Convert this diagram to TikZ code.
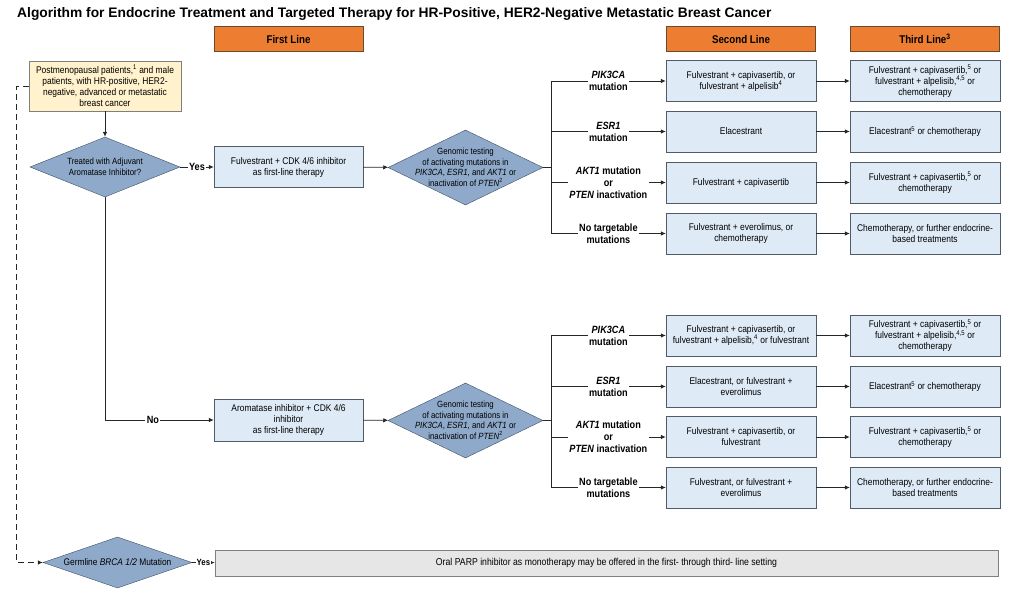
\documentclass[tikz,border=0pt]{standalone}
\usepackage{fontspec}
\setmainfont{Liberation Sans}[FakeStretch=0.87]
\newfontfamily\titlefont{Liberation Sans}
\usetikzlibrary{shapes.geometric,arrows.meta}
\definecolor{hdrorange}{HTML}{ED7D31}
\definecolor{hdrline}{HTML}{6B4A2B}
\definecolor{boxblue}{HTML}{DEEBF7}
\definecolor{boxline}{HTML}{4F5B66}
\definecolor{diafill}{HTML}{8EA9C9}
\definecolor{dialine}{HTML}{3E4F63}
\definecolor{startfill}{HTML}{FFF2CC}
\definecolor{startline}{HTML}{7F7F7F}
\definecolor{greyfill}{HTML}{E7E6E6}
\definecolor{greyline}{HTML}{808080}
\definecolor{lineclr}{HTML}{262626}
\newcommand\ssup[1]{\textsuperscript{#1}}
\newcommand\bodyfont{\fontsize{9.7}{11}\selectfont}
\newcommand\diafont{\fontsize{9}{10.5}\selectfont}
\newcommand\lblfont{\fontsize{10.5}{12}\selectfont\bfseries}
\begin{document}
\begin{tikzpicture}[x=1pt,y=-1pt,
  hdr/.style={draw=hdrline, fill=hdrorange, minimum width=149pt, minimum height=25pt, inner sep=0pt, font=\fontsize{11.2}{13}\selectfont\bfseries},
  bbox/.style={draw=boxline, fill=boxblue, minimum width=150pt, minimum height=41pt, align=center, inner sep=0pt, font=\bodyfont},
  dia/.style={diamond, draw=dialine, fill=diafill, inner sep=0pt},
  dtxt/.style={align=center, font=\diafont, inner sep=0pt},
  lbl/.style={fill=white, inner sep=1.5pt, align=center, font=\lblfont},
  conn/.style={draw=lineclr, line width=0.8pt},
  arr/.style={conn, -{Latex[length=5pt,width=4.5pt]}}
]
\useasboundingbox (0,0) rectangle (1010,596);

\node[anchor=west, font=\titlefont\fontsize{13.8}{16}\selectfont\bfseries, inner sep=0pt] (title) at (17,14)
  {Algorithm for Endocrine Treatment and Targeted Therapy for HR-Positive, HER2-Negative Metastatic Breast Cancer};

\node[hdr] (h1) at (288.5,39) {First Line};
\node[hdr] (h2) at (741,39) {Second Line};
\node[hdr] (h3) at (925,39) {Third Line\ssup{3}};

\node[draw=startline, fill=startfill, minimum width=152pt, minimum height=50pt, inner sep=0pt, align=center, font=\bodyfont] (s) at (105,86)
  {Postmenopausal patients,\ssup{1} and male\\patients, with HR-positive, HER2-\\negative, advanced or metastatic\\breast cancer};

\node[dia, minimum width=150pt, minimum height=60pt] (d1) at (105,167) {};
\node[dtxt] (d1t) at (d1.center) {Treated with Adjuvant\\Aromatase Inhibitor?};

\node[bbox, minimum width=149pt] (f1) at (288.5,167) {Fulvestrant + CDK 4/6 inhibitor\\as first-line therapy};
\node[bbox, minimum width=149pt, minimum height=42pt] (a1) at (288.5,420) {Aromatase inhibitor + CDK 4/6\\inhibitor\\as first-line therapy};

\node[dia, minimum width=155pt, minimum height=75pt] (g1) at (465.5,167.5) {};
\node[dtxt] (g1t) at (g1.center) {Genomic testing\\of activating mutations in\\\textit{PIK3CA}, \textit{ESR1}, and \textit{AKT1} or\\inactivation of \textit{PTEN}\ssup{2}};
\node[dia, minimum width=155pt, minimum height=75pt] (g2) at (465.5,420.5) {};
\node[dtxt] (g2t) at (g2.center) {Genomic testing\\of activating mutations in\\\textit{PIK3CA}, \textit{ESR1}, and \textit{AKT1} or\\inactivation of \textit{PTEN}\ssup{2}};

% upper second/third line
\node[bbox] (s11) at (741,81) {Fulvestrant + capivasertib, or\\fulvestrant + alpelisib\ssup{4}};
\node[bbox] (t11) at (925,81) {Fulvestrant + capivasertib,\ssup{5} or\\fulvestrant + alpelisib,\ssup{4,5} or\\chemotherapy};
\node[bbox] (s12) at (741,131.5) {Elacestrant};
\node[bbox] (t12) at (925,131.5) {Elacestrant\ssup{5} or chemotherapy};
\node[bbox] (s13) at (741,182.5) {Fulvestrant + capivasertib};
\node[bbox] (t13) at (925,182.5) {Fulvestrant + capivasertib,\ssup{5} or\\chemotherapy};
\node[bbox] (s14) at (741,233.5) {Fulvestrant + everolimus, or\\chemotherapy};
\node[bbox] (t14) at (925,233.5) {Chemotherapy, or further endocrine-\\based treatments};

% lower second/third line
\node[bbox] (s21) at (741,335.5) {Fulvestrant + capivasertib, or\\fulvestrant + alpelisib,\ssup{4} or fulvestrant};
\node[bbox] (t21) at (925,335.5) {Fulvestrant + capivasertib,\ssup{5} or\\fulvestrant + alpelisib,\ssup{4,5} or\\chemotherapy};
\node[bbox] (s22) at (741,386.5) {Elacestrant, or fulvestrant +\\everolimus};
\node[bbox] (t22) at (925,386.5) {Elacestrant\ssup{5} or chemotherapy};
\node[bbox] (s23) at (741,437) {Fulvestrant + capivasertib, or\\fulvestrant};
\node[bbox] (t23) at (925,437) {Fulvestrant + capivasertib,\ssup{5} or\\chemotherapy};
\node[bbox] (s24) at (741,487.5) {Fulvestrant, or fulvestrant +\\everolimus};
\node[bbox] (t24) at (925,487.5) {Chemotherapy, or further endocrine-\\based treatments};

% germline
\node[dia, minimum width=149pt, minimum height=51pt] (gm) at (117.5,562.5) {};
\node[dtxt, font=\fontsize{9.6}{11}\selectfont] (gmt) at (gm.center) {Germline \textit{BRCA 1/2} Mutation};
\node[draw=greyline, fill=greyfill, minimum width=783pt, minimum height=26pt, inner sep=0pt, font=\fontsize{10}{11}\selectfont] (pb) at (606.5,563)
  {Oral PARP inhibitor as monotherapy may be offered in the first- through third- line setting};

% connectors
\draw[arr] (s) -- (d1);
\draw[arr] (d1) -- node[lbl]{Yes} (f1);
\draw[arr] (f1) -- (g1);
\draw[arr] (d1.south) |- node[lbl, pos=0.72]{No} (a1);
\draw[arr] (a1) -- (g2);

\coordinate (j1) at (551,167.5);
\coordinate (b11) at (551,81);
\coordinate (b12) at (551,131.5);
\coordinate (b13) at (551,182.5);
\coordinate (b14) at (551,233.5);
\draw[conn] (g1.east) -- (j1);
\draw[conn] (b11) -- (b14);
\draw[arr] (b11) -- node[lbl]{\textit{PIK3CA}\\mutation} (s11);
\draw[arr] (b12) -- node[lbl]{\textit{ESR1}\\mutation} (s12);
\draw[arr] (b13) -- node[lbl]{\textit{AKT1} mutation\\or\\\textit{PTEN} inactivation} (s13);
\draw[arr] (b14) -- node[lbl]{No targetable\\mutations} (s14);

\coordinate (j2) at (551,420.5);
\coordinate (b21) at (551,335.5);
\coordinate (b22) at (551,386.5);
\coordinate (b23) at (551,437);
\coordinate (b24) at (551,487.5);
\draw[conn] (g2.east) -- (j2);
\draw[conn] (b21) -- (b24);
\draw[arr] (b21) -- node[lbl]{\textit{PIK3CA}\\mutation} (s21);
\draw[arr] (b22) -- node[lbl]{\textit{ESR1}\\mutation} (s22);
\draw[arr] (b23) -- node[lbl]{\textit{AKT1} mutation\\or\\\textit{PTEN} inactivation} (s23);
\draw[arr] (b24) -- node[lbl]{No targetable\\mutations} (s24);

\foreach \r in {11,12,13,14,21,22,23,24}
  \draw[arr] (s\r) -- (t\r);

\draw[arr, dash pattern=on 6pt off 4pt] (s.west) -- ++(-12,0) |- (gm);
\draw[arr] (gm) -- node[lbl, font=\fontsize{9}{10}\selectfont\bfseries, inner sep=0.5pt]{Yes} (pb);
\end{tikzpicture}
\end{document}
